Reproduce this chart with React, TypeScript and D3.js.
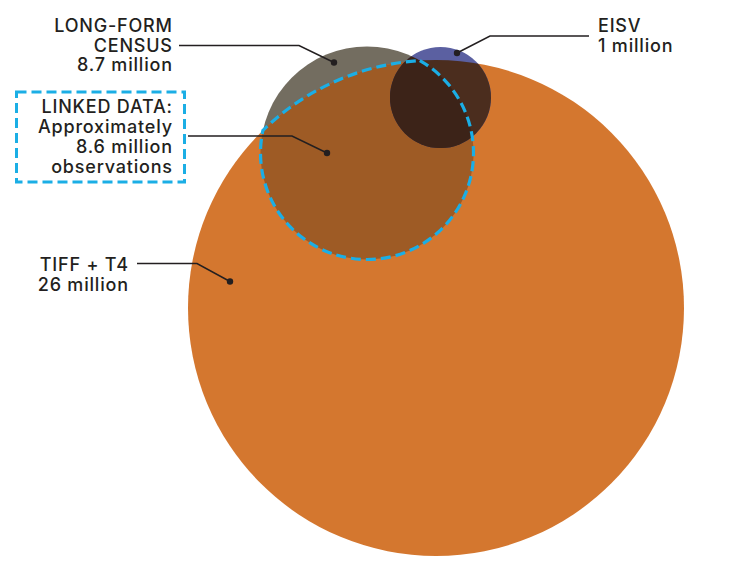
import React from "react";
import * as d3 from "d3";

// Data sets shown in the diagram
const setNames = ["TIFF + T4", "LONG-FORM CENSUS", "EISV", "LINKED DATA"];
const setValues = ["26 million", "8.7 million", "1 million", "Approximately 8.6 million observations"];

// Label lines
const tiffLabel = ["TIFF + T4", "26 million"];
const censusLabel = ["LONG-FORM", "CENSUS", "8.7 million"];
const eisvLabel = ["EISV", "1 million"];
const linkedLabel = ["LINKED DATA:", "Approximately", "8.6 million", "observations"];

const W = 741;
const H = 574;

// Circle layout (pixel geometry)
const tiff = { cx: 436, cy: 308, r: 248 };
const census = { cx: 367, cy: 153, r: 106.5 };
const eisv = { cx: 440.5, cy: 97.5, r: 50.5 };

const COL = {
  orange: "#D4772F",
  grey: "#736D60",
  brown: "#9E5B25",
  blue: "#5B60A1",
  dark: "#4B2D1E",
  darkest: "#3C2318",
  dash: "#1BAEE5",
  ink: "#231F20",
};

// Boundary of the intersection of two circles, as a closed path
function lensPath(a: typeof tiff, b: typeof tiff): string {
  const dx = a.cx - b.cx;
  const dy = a.cy - b.cy;
  const d = Math.hypot(dx, dy);
  const phi = Math.atan2(dy, dx); // from b toward a
  const thB = Math.acos((d * d + b.r * b.r - a.r * a.r) / (2 * d * b.r));
  const b0 = phi - thB;
  const b1 = phi + thB;
  const p1 = [b.cx + b.r * Math.cos(b0), b.cy + b.r * Math.sin(b0)];
  const p2 = [b.cx + b.r * Math.cos(b1), b.cy + b.r * Math.sin(b1)];
  const aP2 = Math.atan2(p2[1] - a.cy, p2[0] - a.cx);
  let aP1 = Math.atan2(p1[1] - a.cy, p1[0] - a.cx);
  let diff = aP1 - aP2;
  while (diff > Math.PI) diff -= 2 * Math.PI;
  while (diff < -Math.PI) diff += 2 * Math.PI;
  aP1 = aP2 + diff;
  const p = d3.path();
  p.moveTo(p1[0], p1[1]);
  p.arc(b.cx, b.cy, b.r, b0, b1, false);
  p.arc(a.cx, a.cy, a.r, aP2, aP1, diff < 0);
  p.closePath();
  return p.toString();
}

const line = d3.line<[number, number]>();

type LabelProps = {
  lines: string[];
  x: number;
  y: number;
  anchor: "start" | "end";
  lh: number;
};

const LS = 0.8;

function Label({ lines, x, y, anchor, lh }: LabelProps) {
  const ax = anchor === "end" ? x + LS : x;
  return (
    <text
      x={ax}
      y={y}
      textAnchor={anchor}
      fontFamily="Inter, 'Open Sans', sans-serif"
      fontWeight={500}
      fontSize={18}
      letterSpacing={LS}
      fill={COL.ink}
    >
      {lines.map((t, i) => (
        <tspan key={i} x={ax} y={y + i * lh}>
          {t}
        </tspan>
      ))}
    </text>
  );
}

function Leader({ pts }: { pts: [number, number][] }) {
  const end = pts[pts.length - 1];
  return (
    <g>
      <path d={line(pts) || ""} fill="none" stroke={COL.ink} strokeWidth={1.5} />
      <circle cx={end[0]} cy={end[1]} r={3.2} fill={COL.ink} />
    </g>
  );
}

export default function App() {
  const lens = lensPath(tiff, census);
  return (
    <svg
      width={W}
      height={H}
      style={{ position: "absolute", left: 0, top: 0, background: "#fff" }}
      data-sets={setNames.join("|")}
      data-values={setValues.join("|")}
    >
      <defs>
        <clipPath id="clip-tiff">
          <circle cx={tiff.cx} cy={tiff.cy} r={tiff.r} />
        </clipPath>
        <clipPath id="clip-census">
          <circle cx={census.cx} cy={census.cy} r={census.r} />
        </clipPath>
      </defs>

      {/* census behind, TIFF over it, overlap tinted */}
      <circle cx={census.cx} cy={census.cy} r={census.r} fill={COL.grey} />
      <circle cx={tiff.cx} cy={tiff.cy} r={tiff.r} fill={COL.orange} />
      <path d={lens} fill={COL.brown} />

      {/* EISV and its overlaps */}
      <circle cx={eisv.cx} cy={eisv.cy} r={eisv.r} fill={COL.blue} />
      <circle cx={eisv.cx} cy={eisv.cy} r={eisv.r} fill={COL.dark} clipPath="url(#clip-tiff)" />
      <circle cx={eisv.cx} cy={eisv.cy} r={eisv.r} fill={COL.darkest} clipPath="url(#clip-census)" />

      {/* linked data outline */}
      <path d={lens} fill="none" stroke={COL.dash} strokeWidth={3.2} strokeDasharray="10 5" />

      {/* leaders */}
      <Leader pts={[[179, 45.5], [299, 45.5], [334, 62.5]]} />
      <Leader pts={[[188, 136], [292, 136], [327, 153]]} />
      <Leader pts={[[589, 36], [490, 36], [457, 53]]} />
      <Leader pts={[[137, 263.5], [197, 263.5], [230, 281.5]]} />

      {/* linked data box */}
      <rect
        x={16.5}
        y={92}
        width={168}
        height={90}
        fill="none"
        stroke={COL.dash}
        strokeWidth={3}
        strokeDasharray="10 5"
      />

      <Label lines={censusLabel} x={172} y={32} anchor="end" lh={19.5} />
      <Label lines={linkedLabel} x={172} y={113} anchor="end" lh={20} />
      <Label lines={eisvLabel} x={598} y={32} anchor="start" lh={20} />
      <Label lines={tiffLabel} x={128} y={271} anchor="end" lh={20} />
    </svg>
  );
}
